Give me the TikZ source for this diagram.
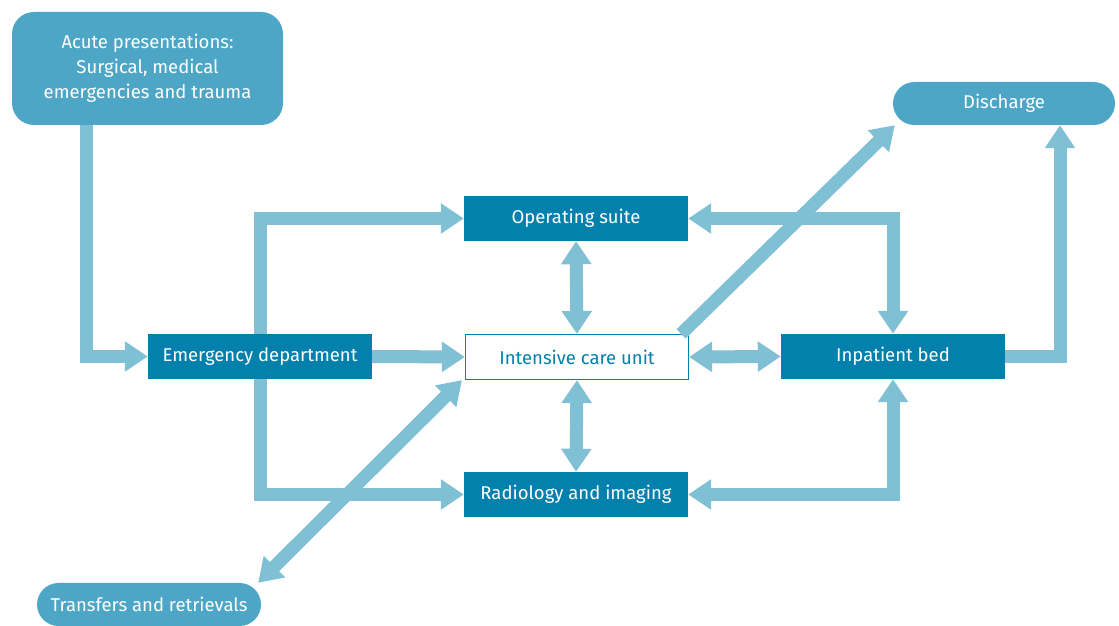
\documentclass[tikz,border=0pt]{standalone}
\usepackage{fontspec}
\setmainfont{Fira Sans}
\usetikzlibrary{arrows.meta}
\definecolor{unitblue}{HTML}{0381AC}
\definecolor{pillblue}{HTML}{4EA6C6}
\definecolor{flowblue}{HTML}{80C0D4}
\tikzset{
  unit/.style={fill=unitblue,text=white,minimum width=224bp,minimum height=45bp,inner sep=0pt,font=\fontsize{18.5bp}{22bp}\selectfont},
  pill/.style={fill=pillblue,text=white,rounded corners=21.5bp,minimum height=43bp,inner sep=0pt,font=\fontsize{18.5bp}{22bp}\selectfont},
  flow/.style={draw=flowblue,line width=13bp,-{Triangle[length=23bp,width=29bp]}},
  twoway/.style={flow,{Triangle[length=23bp,width=29bp]}-{Triangle[length=23bp,width=29bp]}}
}
\begin{document}
\begin{tikzpicture}
  \useasboundingbox (0bp,0bp) rectangle (1119bp,626bp);
  \node (Acute) at (147.5bp,557.5bp) [pill,rounded corners=22bp,minimum width=271bp,minimum height=113bp,align=center,font=\fontsize{18.5bp}{25bp}\selectfont] {Acute presentations:\\Surgical, medical\\emergencies and trauma};
  \node (Discharge) at (1004bp,522.5bp) [pill,minimum width=222bp] {Discharge};
  \node (Transfers) at (149bp,21.5bp) [pill,minimum width=224bp] {Transfers and retrievals};
  \node (Operating) at (576bp,407.5bp) [unit] {Operating suite};
  \node (ED) at (260bp,269.5bp) [unit] {Emergency department};
  \node (ICU) at (577bp,269bp) [unit,fill=white,draw=unitblue,line width=1.2bp,text=unitblue,minimum width=223bp,minimum height=45bp] {Intensive care unit};
  \node (Inpatient) at (893bp,269.5bp) [unit] {Inpatient bed};
  \node (Radiology) at (576bp,131.5bp) [unit] {Radiology and imaging};
  %
  \draw [flow] ([xshift=75bp]Acute.south west) |- (ED.west);
  \draw [flow] (ED.east) -- (ICU.west);
  \draw [flow] (ED.north) |- (Operating.west);
  \draw [flow] (ED.south) |- (Radiology.west);
  \draw [twoway] (Operating.south) -- (ICU.north);
  \draw [twoway] (ICU.south) -- (Radiology.north);
  \draw [twoway] (ICU.east) -- (Inpatient.west);
  \draw [twoway] (Operating.east) -| (Inpatient.north);
  \draw [twoway] (Radiology.east) -| (Inpatient.south);
  \draw [flow] (Inpatient.east) -| ([xshift=56bp]Discharge.south);
  \draw [flow] ([xshift=-8bp]ICU.north east) -- ([xshift=2bp]Discharge.south west);
  \draw [twoway] ([xshift=-3bp]Transfers.north east) -- ([xshift=-3bp]ICU.south west);
  %
\end{tikzpicture}
\end{document}
